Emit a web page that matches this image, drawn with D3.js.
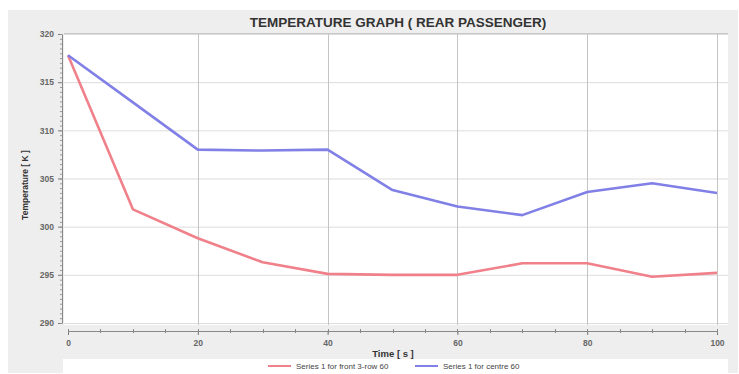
<!DOCTYPE html>
<html><head><meta charset="utf-8">
<script src="https://cdn.jsdelivr.net/npm/d3@7"></script>
<style>
html,body{margin:0;padding:0;background:#fff;}
svg{display:block;}
text{font-family:"Liberation Sans",Arial,sans-serif;}
</style></head>
<body>
<svg id="chart" width="739" height="374"></svg>
<script>
const times = [0,10,20,30,40,50,60,70,80,90,100];
const seriesFront = [317.8,301.8,298.8,296.3,295.1,295.0,295.0,296.2,296.2,294.8,295.2];
const seriesCentre = [317.8,312.9,308.0,307.9,308.0,303.8,302.1,301.2,303.6,304.5,303.5];
const seriesNames = ["Series 1 for front 3-row 60","Series 1 for centre 60"];
const seriesColors = ["#f0808a","#8080e6"];
const xTicks = [0,20,40,60,80,100];
const yTicks = [290,295,300,305,310,315,320];
const titleText = "TEMPERATURE GRAPH ( REAR PASSENGER)";
const xLabel = "Time [ s ]";
const yLabel = "Temperature [ K ]";

const svg = d3.select("#chart");
// panel
svg.append("rect").attr("x",8).attr("y",10).attr("width",730).attr("height",363).attr("fill","#eeeeee");
// plot area
const plot = {l:64,t:33,r:728,b:325};
svg.append("rect").attr("x",plot.l).attr("y",plot.t).attr("width",plot.r-plot.l).attr("height",plot.b-plot.t).attr("fill","#ffffff");

const x = d3.scaleLinear().domain([0,100]).range([68,717]);
const y = d3.scaleLinear().domain([290,320]).range([323,34]);

// grid
const g = svg.append("g");
g.selectAll(".hg").data(yTicks).enter().append("line")
  .attr("x1",plot.l).attr("x2",plot.r).attr("y1",d=>y(d)+0.5).attr("y2",d=>y(d)+0.5)
  .attr("stroke","#dcdcdc").attr("stroke-width",1);
g.selectAll(".vg").data(xTicks.filter(d=>d>0)).enter().append("line")
  .attr("y1",plot.t).attr("y2",plot.b).attr("x1",d=>Math.round(x(d))+0.5).attr("x2",d=>Math.round(x(d))+0.5)
  .attr("stroke","#c4c4c4").attr("stroke-width",1);
svg.append("line").attr("x1",plot.l).attr("x2",plot.r).attr("y1",plot.t+0.5).attr("y2",plot.t+0.5).attr("stroke","#c8c8c8");

// y axis
const yAxis = d3.axisLeft(y).tickValues(yTicks).tickSize(4).tickPadding(4).tickFormat(d3.format("d"));
const ya = svg.append("g").attr("transform","translate(62,0)").call(yAxis);
ya.select(".domain").attr("stroke","#888");
ya.selectAll(".tick line").attr("stroke","#777");
ya.selectAll("text").attr("font-size",8.5).attr("fill","#666").attr("font-weight","bold");
const yMinor = d3.range(290,320.01,0.5);
ya.selectAll(".ymin").data(yMinor).enter().append("line")
  .attr("x1",-2).attr("x2",0).attr("y1",d=>y(d)+0.5).attr("y2",d=>y(d)+0.5).attr("stroke","#999");

// x axis
const xAxis = d3.axisBottom(x).tickValues(xTicks).tickSize(4).tickPadding(5).tickFormat(d3.format("d"));
const xa = svg.append("g").attr("transform","translate(0,331)").call(xAxis);
xa.select(".domain").attr("stroke","#888");
xa.selectAll(".tick line").attr("stroke","#777");
xa.selectAll("text").attr("font-size",8.5).attr("fill","#666").attr("font-weight","bold");
const xMinor = d3.range(0,100.01,5);
xa.selectAll(".xmin").data(xMinor).enter().append("line")
  .attr("y1",-2).attr("y2",2).attr("x1",d=>Math.round(x(d))+0.5).attr("x2",d=>Math.round(x(d))+0.5).attr("stroke","#888");

// lines
const line = d3.line().x((d,i)=>x(times[i])).y(d=>y(d));
[seriesFront,seriesCentre].forEach((s,i)=>{
  svg.append("path").datum(s).attr("d",line).attr("fill","none")
    .attr("stroke",seriesColors[i]).attr("stroke-width",2.6).attr("stroke-linejoin","round");
});

// title
svg.append("text").attr("x",398).attr("y",27).attr("text-anchor","middle")
  .attr("font-size",13.5).attr("font-weight","bold").attr("fill","#333").text(titleText);
// axis labels
svg.append("text").attr("x",393).attr("y",357).attr("text-anchor","middle")
  .attr("font-size",9.5).attr("font-weight","bold").attr("fill","#333").text(xLabel);
svg.append("text").attr("transform","translate(28,185) rotate(-90)").attr("text-anchor","middle")
  .attr("font-size",8.5).attr("font-weight","bold").attr("fill","#333").text(yLabel);

// legend
svg.append("rect").attr("x",63).attr("y",359).attr("width",665).attr("height",15).attr("fill","#ffffff");
const legendX = [268,415];
seriesNames.forEach((n,i)=>{
  svg.append("line").attr("x1",legendX[i]).attr("x2",legendX[i]+23).attr("y1",366).attr("y2",366)
    .attr("stroke",seriesColors[i]).attr("stroke-width",2);
  svg.append("text").attr("x",legendX[i]+28).attr("y",369).attr("font-size",8).attr("fill","#444").text(n);
});
</script>
</body></html>
